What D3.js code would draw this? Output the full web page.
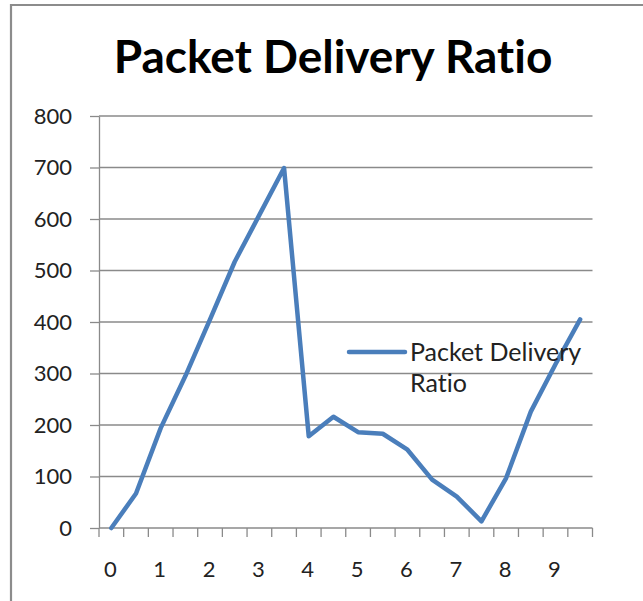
<!DOCTYPE html>
<html>
<head>
<meta charset="utf-8">
<script src="https://cdn.jsdelivr.net/npm/d3@7"></script>
<style>
  html, body { margin: 0; padding: 0; background: #fff; }
  svg { display: block; }
  text { font-variant-ligatures: none; font-feature-settings: "liga" 0, "clig" 0; }
</style>
</head>
<body>
<svg id="chart" width="643" height="601"></svg>
<script>
const title = "Packet Delivery Ratio";
const seriesName = "Packet Delivery Ratio";
const categories = [0, 0.5, 1, 1.5, 2, 2.5, 3, 3.5, 4, 4.5, 5, 5.5, 6, 6.5, 7, 7.5, 8, 8.5, 9, 9.5];
const values = [0, 67, 194, 295, 405, 517, 608, 699, 178, 216, 186, 183, 152, 94, 61, 13, 97, 226, 318, 405];
const yTicks = [0, 100, 200, 300, 400, 500, 600, 700, 800];
const xLabels = [0, 1, 2, 3, 4, 5, 6, 7, 8, 9];

(function () {
const svg = d3.select("#chart");
const font = "Lato, 'Open Sans', sans-serif";
const gridColor = "#8a8a8a";
const lineColor = "#4a7ebb";

// chart border (only left & top visible)
svg.append("path")
  .attr("d", "M11,601 L11,5 L643,5")
  .attr("fill", "none").attr("stroke", "#8c8c8c").attr("stroke-width", 2.2);

// title
svg.append("text")
  .attr("x", 333).attr("y", 73)
  .attr("text-anchor", "middle")
  .attr("font-family", font).attr("font-weight", "bold")
  .attr("font-size", 46).attr("fill", "#000")
  .text(title);

const pL = 99, pR = 592.5, pT = 116, pB = 528;

const x = d3.scaleBand().domain(categories).range([pL, pR]).padding(0);
const y = d3.scaleLinear().domain([0, 800]).range([pB, pT]);

// gridlines
svg.append("g").selectAll("line").data(yTicks.filter(d => d > 0)).join("line")
  .attr("x1", pL).attr("x2", pR)
  .attr("y1", d => y(d)).attr("y2", d => y(d))
  .attr("stroke", gridColor).attr("stroke-width", 1.3);

// y axis
const yAxis = svg.append("g").attr("transform", `translate(${pL},0)`)
  .call(d3.axisLeft(y).tickValues(yTicks).tickSize(9).tickPadding(18).tickSizeOuter(0));
yAxis.select(".domain").attr("stroke", gridColor).attr("stroke-width", 1.3);
yAxis.selectAll(".tick line").attr("stroke", gridColor).attr("stroke-width", 1.3);
yAxis.selectAll(".tick text").attr("font-family", font).attr("font-size", 22).attr("fill", "#222");

// x axis line + tick marks at band boundaries
const boundaries = categories.map(c => x(c)).concat([pR]);
svg.append("line").attr("x1", pL).attr("x2", pR).attr("y1", pB).attr("y2", pB)
  .attr("stroke", gridColor).attr("stroke-width", 1.3);
svg.append("g").selectAll("line").data(boundaries).join("line")
  .attr("x1", d => d).attr("x2", d => d).attr("y1", pB).attr("y2", pB + 9)
  .attr("stroke", gridColor).attr("stroke-width", 1.3);

// x labels at category centers
const xAxis = svg.append("g").attr("transform", `translate(-1,${pB})`)
  .call(d3.axisBottom(x).tickValues(xLabels).tickSize(0).tickPadding(33).tickFormat(d3.format("d")));
xAxis.select(".domain").remove();
xAxis.selectAll(".tick text").attr("font-family", font).attr("font-size", 22).attr("fill", "#222");

// series line
const line = d3.line()
  .x((d, i) => x(categories[i]) + x.bandwidth() / 2)
  .y(d => y(d));
svg.append("path").datum(values)
  .attr("d", line)
  .attr("fill", "none").attr("stroke", lineColor).attr("stroke-width", 4.5)
  .attr("stroke-linejoin", "round").attr("stroke-linecap", "round");

// legend
const lg = svg.append("g");
lg.append("line").attr("x1", 349).attr("x2", 405).attr("y1", 352).attr("y2", 352)
  .attr("stroke", lineColor).attr("stroke-width", 4.5).attr("stroke-linecap", "round");
const lt = lg.append("text").attr("font-family", font).attr("font-size", 25).attr("fill", "#222");
lt.append("tspan").attr("x", 410).attr("y", 361).text("Packet Delivery");
lt.append("tspan").attr("x", 410).attr("y", 392).text("Ratio");
})();
</script>
</body>
</html>
